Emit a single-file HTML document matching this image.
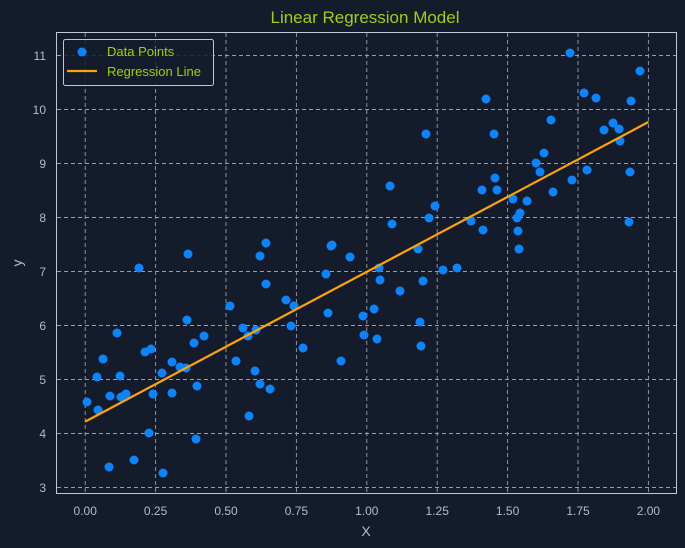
<!DOCTYPE html>
<html><head><meta charset="utf-8"><style>
html,body{margin:0;padding:0;background:#141c2b;}
svg{display:block;font-family:"Liberation Sans",sans-serif;}
</style></head><body>
<svg width="685" height="548" viewBox="0 0 685 548" xmlns="http://www.w3.org/2000/svg">
<rect width="685" height="548" fill="#141c2b"/>
<text x="365" y="23" text-anchor="middle" font-size="17" fill="#9ed10a">Linear Regression Model</text>
<g stroke="#9aa0aa" stroke-width="0.9" stroke-dasharray="4,3" fill="none">
<line x1="85.2" y1="33" x2="85.2" y2="493"/><line x1="155.6" y1="33" x2="155.6" y2="493"/><line x1="226" y1="33" x2="226" y2="493"/><line x1="296.4" y1="33" x2="296.4" y2="493"/><line x1="366.8" y1="33" x2="366.8" y2="493"/><line x1="437.2" y1="33" x2="437.2" y2="493"/><line x1="507.6" y1="33" x2="507.6" y2="493"/><line x1="578" y1="33" x2="578" y2="493"/><line x1="648.4" y1="33" x2="648.4" y2="493"/>
<line x1="57" y1="55.5" x2="676" y2="55.5"/><line x1="57" y1="109.5" x2="676" y2="109.5"/><line x1="57" y1="163.5" x2="676" y2="163.5"/><line x1="57" y1="217.5" x2="676" y2="217.5"/><line x1="57" y1="271.5" x2="676" y2="271.5"/><line x1="57" y1="325.5" x2="676" y2="325.5"/><line x1="57" y1="379.5" x2="676" y2="379.5"/><line x1="57" y1="433.5" x2="676" y2="433.5"/><line x1="57" y1="487.5" x2="676" y2="487.5"/>
</g>
<rect x="56.5" y="32.5" width="620" height="461" fill="none" stroke="#c0c8d8" stroke-width="1"/>
<g font-size="12" fill="#b4bccb" text-anchor="middle">
<text x="85.2" y="515">0.00</text><text x="155.6" y="515">0.25</text><text x="226" y="515">0.50</text><text x="296.4" y="515">0.75</text><text x="366.8" y="515">1.00</text><text x="437.2" y="515">1.25</text><text x="507.6" y="515">1.50</text><text x="578" y="515">1.75</text><text x="648.4" y="515">2.00</text>
</g>
<g font-size="12" fill="#b4bccb" text-anchor="end">
<text x="46" y="60">11</text><text x="46" y="114">10</text><text x="46" y="168">9</text><text x="46" y="222">8</text><text x="46" y="276">7</text><text x="46" y="330">6</text><text x="46" y="384">5</text><text x="46" y="438">4</text><text x="46" y="492">3</text>
</g>
<text x="366" y="536" text-anchor="middle" font-size="14" fill="#b4bccb">X</text>
<text x="22" y="263" text-anchor="middle" font-size="14" fill="#b4bccb" transform="rotate(-90 22 263)">y</text>
<g fill="#0a84ff">
<circle cx="87" cy="402" r="4.5"/><circle cx="97" cy="377" r="4.5"/><circle cx="98" cy="410" r="4.5"/><circle cx="103" cy="359" r="4.5"/><circle cx="109" cy="467" r="4.5"/><circle cx="110" cy="396" r="4.5"/><circle cx="117" cy="333" r="4.5"/><circle cx="120" cy="376" r="4.5"/><circle cx="121" cy="397" r="4.5"/><circle cx="126" cy="394" r="4.5"/><circle cx="134" cy="460" r="4.5"/><circle cx="139" cy="268" r="4.5"/><circle cx="145" cy="352" r="4.5"/><circle cx="149" cy="433" r="4.5"/><circle cx="151" cy="349" r="4.5"/><circle cx="153" cy="394" r="4.5"/><circle cx="162" cy="373" r="4.5"/><circle cx="163" cy="473" r="4.5"/><circle cx="172" cy="362" r="4.5"/><circle cx="172" cy="393" r="4.5"/><circle cx="180" cy="367" r="4.5"/><circle cx="186" cy="368" r="4.5"/><circle cx="187" cy="320" r="4.5"/><circle cx="188" cy="254" r="4.5"/><circle cx="194" cy="343" r="4.5"/><circle cx="196" cy="439" r="4.5"/><circle cx="197" cy="386" r="4.5"/><circle cx="204" cy="336" r="4.5"/><circle cx="230" cy="306" r="4.5"/><circle cx="236" cy="361" r="4.5"/><circle cx="243" cy="328" r="4.5"/><circle cx="248" cy="336" r="4.5"/><circle cx="249" cy="416" r="4.5"/><circle cx="255" cy="371" r="4.5"/><circle cx="256" cy="330" r="4.5"/><circle cx="260" cy="256" r="4.5"/><circle cx="260" cy="384" r="4.5"/><circle cx="266" cy="243" r="4.5"/><circle cx="266" cy="284" r="4.5"/><circle cx="270" cy="389" r="4.5"/><circle cx="286" cy="300" r="4.5"/><circle cx="291" cy="326" r="4.5"/><circle cx="294" cy="306" r="4.5"/><circle cx="303" cy="348" r="4.5"/><circle cx="326" cy="274" r="4.5"/><circle cx="328" cy="313" r="4.5"/><circle cx="331" cy="246" r="4.5"/><circle cx="332" cy="245" r="4.5"/><circle cx="341" cy="361" r="4.5"/><circle cx="350" cy="257" r="4.5"/><circle cx="363" cy="316" r="4.5"/><circle cx="364" cy="335" r="4.5"/><circle cx="374" cy="309" r="4.5"/><circle cx="377" cy="339" r="4.5"/><circle cx="379" cy="268" r="4.5"/><circle cx="380" cy="280" r="4.5"/><circle cx="390" cy="186" r="4.5"/><circle cx="392" cy="224" r="4.5"/><circle cx="400" cy="291" r="4.5"/><circle cx="418" cy="249" r="4.5"/><circle cx="420" cy="322" r="4.5"/><circle cx="421" cy="346" r="4.5"/><circle cx="423" cy="281" r="4.5"/><circle cx="426" cy="134" r="4.5"/><circle cx="429" cy="218" r="4.5"/><circle cx="435" cy="206" r="4.5"/><circle cx="443" cy="270" r="4.5"/><circle cx="457" cy="268" r="4.5"/><circle cx="471" cy="221" r="4.5"/><circle cx="482" cy="190" r="4.5"/><circle cx="483" cy="230" r="4.5"/><circle cx="486" cy="99" r="4.5"/><circle cx="494" cy="134" r="4.5"/><circle cx="495" cy="178" r="4.5"/><circle cx="497" cy="190" r="4.5"/><circle cx="513" cy="199" r="4.5"/><circle cx="517" cy="218" r="4.5"/><circle cx="518" cy="231" r="4.5"/><circle cx="519" cy="249" r="4.5"/><circle cx="520" cy="213" r="4.5"/><circle cx="527" cy="201" r="4.5"/><circle cx="536" cy="163" r="4.5"/><circle cx="540" cy="172" r="4.5"/><circle cx="544" cy="153" r="4.5"/><circle cx="553" cy="192" r="4.5"/><circle cx="551" cy="120" r="4.5"/><circle cx="570" cy="53" r="4.5"/><circle cx="572" cy="180" r="4.5"/><circle cx="584" cy="93" r="4.5"/><circle cx="587" cy="170" r="4.5"/><circle cx="596" cy="98" r="4.5"/><circle cx="604" cy="130" r="4.5"/><circle cx="613" cy="123" r="4.5"/><circle cx="619" cy="129" r="4.5"/><circle cx="620" cy="141" r="4.5"/><circle cx="629" cy="222" r="4.5"/><circle cx="630" cy="172" r="4.5"/><circle cx="631" cy="101" r="4.5"/><circle cx="640" cy="71" r="4.5"/>
</g>
<line x1="85.2" y1="421.6" x2="648.4" y2="122" stroke="#ffa500" stroke-width="2.2"/>
<rect x="63.5" y="39.5" width="150" height="46" rx="2" fill="#141c2b" fill-opacity="0.85" stroke="#c0c8d8" stroke-width="1"/>
<circle cx="82" cy="52" r="4.5" fill="#0a84ff"/>
<line x1="67" y1="71" x2="97" y2="71" stroke="#ffa500" stroke-width="2.2"/>
<g font-size="13" fill="#9ed10a">
<text x="107" y="56">Data Points</text>
<text x="107" y="76">Regression Line</text>
</g>
</svg>
</body></html>
